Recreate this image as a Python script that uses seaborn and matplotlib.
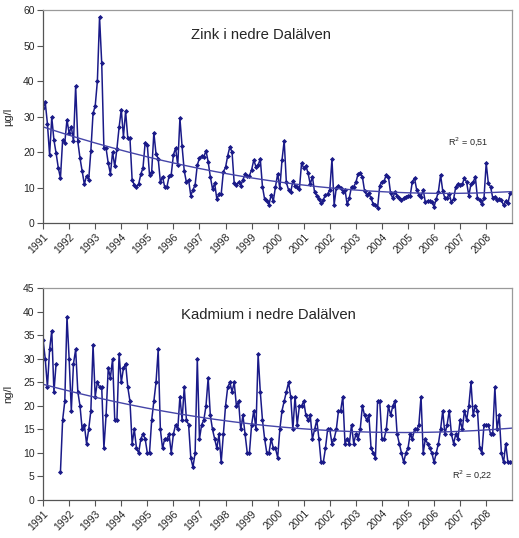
import numpy as np
import pandas as pd
import matplotlib
matplotlib.use("Agg")
import matplotlib.pyplot as plt
import seaborn as sns

sns.set_style("white")
plt.rcParams['font.family'] = ['Liberation Sans', 'DejaVu Sans']

# Månadsvärden 1991-01 ... 2009-01
years = list(range(1991, 2009))

zink = [
    32.3, 34, 28, 19.2, 29.8, 23.4, 19.7, 15.6, 12.7, 23.4, 22.7, 29.1,
    25.3, 27.2, 23, 38.6, 23, 18.3, 14.7, 11, 13.3, 12.2, 20.4, 30.9,
    33, 40, 58, 45, 21.1, 21.1, 16.9, 13.9, 20, 16, 21, 27,
    32, 24.4, 31.5, 23.9, 23.9, 12.2, 10.8, 10.3, 11, 13.8, 15.6, 22.7,
    22, 13.6, 14.5, 25.5, 19.5, 18.2, 11.6, 13.1, 10.2, 10.2, 13.2, 13.7,
    19.2, 21.2, 16.3, 29.5, 21.6, 14.7, 11.5, 12.2, 7.8, 9.4, 10.8, 16.4,
    18.3, 18.9, 18.7, 20.4, 17.3, 13.1, 9.7, 11.2, 6.8, 8.2, 8.2, 14.5,
    15.7, 19, 21.5, 20, 11.2, 10.8, 11.5, 10.6, 12.2, 13.8, 13.4, 13.4,
    15, 17.8, 15.9, 16.4, 18.1, 10.3, 6.8, 6.3, 5.2, 8, 6.3, 10.3,
    13.9, 9.8, 17.8, 23.2, 11.5, 9.4, 8.7, 11.9, 10.6, 10.3, 9.6, 16.9,
    15.5, 16.1, 14.1, 11, 13.1, 8.7, 7.8, 6.8, 5.6, 6.6, 8, 8.2,
    9.4, 18, 5.2, 10, 10.6, 10, 8.9, 9.4, 5.3, 7.2, 10.3, 10.3,
    11.5, 13.8, 14.1, 13.1, 9.1, 8, 8.4, 7, 5.4, 5.2, 4.4, 10.6,
    11.7, 11.9, 13.6, 13.1, 8.4, 7, 8.9, 7.7, 7.2, 6.6, 7, 7.5,
    7.7, 7.7, 11.7, 12.7, 9.4, 8, 7.5, 9.4, 5.9, 6.3, 6.3, 5.9,
    4.7, 6.8, 8.9, 13.6, 9.1, 7, 7.2, 8.2, 5.9, 6.8, 10.3, 11,
    10.8, 11, 12.8, 11.5, 7.8, 11, 11.5, 13.1, 7, 6.6, 5.3, 7.2,
    16.9, 11.2, 10.3, 7.2, 7.5, 6.6, 6.8, 6.6, 5, 6.3, 5.6, 8.4,
    8.5,
]

kadmium = [
    34, 30, 24, 32, 36, 23, 29, np.nan, 6, 17, 21, 39,
    30, 19, 29, 32, 23, 20, 15, 16, 12, 15, 19, 33,
    22, 25, 24, 24, 11, 18, 28, 26, 30, 17, 17, 31,
    25, 28, 29, 24, 21, 12, 15, 11, 10, 13, 14, 13,
    10, 10, 17, 21, 25, 32, 15, 11, 13, 13, 14, 10,
    14, 16, 15, 22, 17, 24, 17, 16, 9, 7, 10, 30,
    13, 16, 17, 20, 26, 18, 15, 13, 11, 14, 8, 14,
    20, 24, 25, 23, 25, 20, 21, 15, 18, 14, 10, 10,
    16, 19, 15, 31, 23, 17, 13, 10, 10, 13, 11, 11,
    9, 15, 19, 21, 23, 25, 22, 15, 22, 16, 20, 20,
    21, 18, 17, 18, 13, 15, 17, 13, 8, 8, 11, 15,
    15, 12, 13, 15, 19, 19, 22, 12, 13, 12, 16, 12,
    14, 13, 15, 20, 18, 17, 18, 11, 10, 9, 21, 21,
    13, 13, 15, 20, 18, 20, 21, 14, 12, 10, 8, 10,
    11, 14, 13, 15, 15, 16, 22, 10, 13, 12, 11, 10,
    8, 10, 12, 15, 19, 14, 16, 19, 14, 12, 14, 13,
    17, 15, 19, 17, 20, 25, 18, 20, 19, 11, 10, 16,
    16, 16, 14, 14, 24, 15, 18, 10, 8, 12, 8, 8,
    8,
]

line_col = '#1a1a88'
trend_col = '#4545a8'


def make_df(values):
    df = pd.DataFrame({'i': np.arange(len(values)), 'v': values})
    # nytt segment efter varje saknat värde
    df['seg'] = df['v'].isna().cumsum()
    return df.dropna()


def draw(ax, values, title, ylabel, ymax, ystep, r2, r2_pos, title_pos):
    df = make_df(values)
    sns.lineplot(data=df, x='i', y='v', units='seg', estimator=None,
                 color=line_col, lw=1.1, marker='D', markersize=2.6,
                 markeredgewidth=0, ax=ax)

    # trendlinje, polynom 2:a graden
    coef = np.polyfit(df['i'], df['v'], 2)
    xs = np.linspace(0, len(values) - 1, 300)
    ax.plot(xs, np.polyval(coef, xs), color=trend_col, lw=1.0)

    ax.set_xlim(0, len(values) - 1)
    ax.set_ylim(0, ymax)
    ax.set_yticks(np.arange(0, ymax + 1, ystep))
    ax.set_xticks([12 * k for k in range(len(years))])
    ax.set_xticklabels([str(y) for y in years], rotation=45, ha='right',
                       rotation_mode='anchor', fontsize=7.5)
    ax.tick_params(axis='y', labelsize=7.5, length=4, width=0.8,
                   color='#555555', left=True, pad=2)
    ax.tick_params(axis='x', length=4, width=0.8, color='#555555',
                   bottom=True, pad=2)
    ax.set_xlabel('')
    ax.set_ylabel(ylabel, fontsize=8, labelpad=7)

    for s in ['top', 'right']:
        ax.spines[s].set_color('#9a9a9a')
        ax.spines[s].set_linewidth(0.9)
    for s in ['left', 'bottom']:
        ax.spines[s].set_color('#555555')
        ax.spines[s].set_linewidth(0.9)

    ax.text(title_pos[0], title_pos[1], title, transform=ax.transAxes,
            ha='center', va='center', fontsize=10.7)
    ax.text(r2_pos[0], r2_pos[1], r2, transform=ax.transAxes,
            ha='center', va='center', fontsize=6.5)


fig = plt.figure(figsize=(5.19, 5.38), dpi=100)
ax1 = fig.add_axes([0.083, 0.585, 0.904, 0.3965])
ax2 = fig.add_axes([0.083, 0.0706, 0.904, 0.3935])

draw(ax1, zink, 'Zink i nedre Dalälven', 'µg/l', 60, 10,
     'R$^2$ = 0,51', (0.905, 0.385), (0.465, 0.883))
draw(ax2, kadmium, 'Kadmium i nedre Dalälven', 'ng/l', 45, 5,
     'R$^2$ = 0,22', (0.915, 0.118), (0.48, 0.874))

fig.savefig('out.png', dpi=100)
